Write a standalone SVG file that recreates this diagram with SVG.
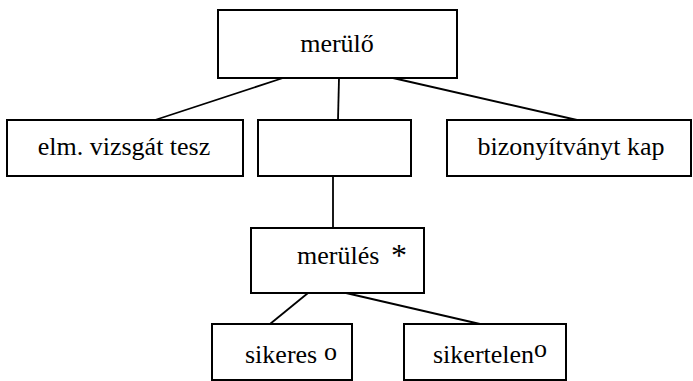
<svg xmlns="http://www.w3.org/2000/svg" width="693" height="381" viewBox="0 0 693 381">
<style>
.box{fill:#fff;stroke:#000;stroke-width:2}
text{font-family:'Liberation Serif','Times New Roman',serif;font-size:26px;fill:#000}
.mid{text-anchor:middle}
.conn line{stroke:#000;stroke-width:1.8}
</style>
<rect width="693" height="381" fill="#fff"/>
<g id="connectors" class="conn">
<line x1="283" y1="78" x2="155" y2="120"/>
<line x1="339" y1="78" x2="338" y2="120"/>
<line x1="393" y1="78" x2="577" y2="120"/>
<line x1="333" y1="176" x2="333" y2="228"/>
<line x1="308" y1="293" x2="270" y2="324"/>
<line x1="346" y1="293" x2="480" y2="324"/>
</g>
<g id="n-merulo"><rect class="box" x="218" y="10" width="239" height="68"/><text class="mid" x="337" y="52">merülő</text></g>
<g id="n-elm"><rect class="box" x="7" y="120" width="236" height="56"/><text class="mid" x="124" y="155">elm. vizsgát tesz</text></g>
<g id="n-empty"><rect class="box" x="258" y="120" width="153" height="56"/></g>
<g id="n-bizony"><rect class="box" x="447" y="120" width="244" height="56"/><text class="mid" x="571" y="155">bizonyítványt kap</text></g>
<g id="n-merules"><rect class="box" x="251" y="228" width="173" height="65"/><text x="297" y="264">merülés</text><text x="391" y="266" style="font-size:32px">*</text></g>
<g id="n-sikeres"><rect class="box" x="212" y="324" width="140" height="56"/><text x="245" y="363">sikeres</text><text x="324" y="360">o</text></g>
<g id="n-sikertelen"><rect class="box" x="404" y="324" width="162" height="56"/><text x="433" y="363">sikertelen</text><text x="534" y="357">o</text></g>
</svg>
